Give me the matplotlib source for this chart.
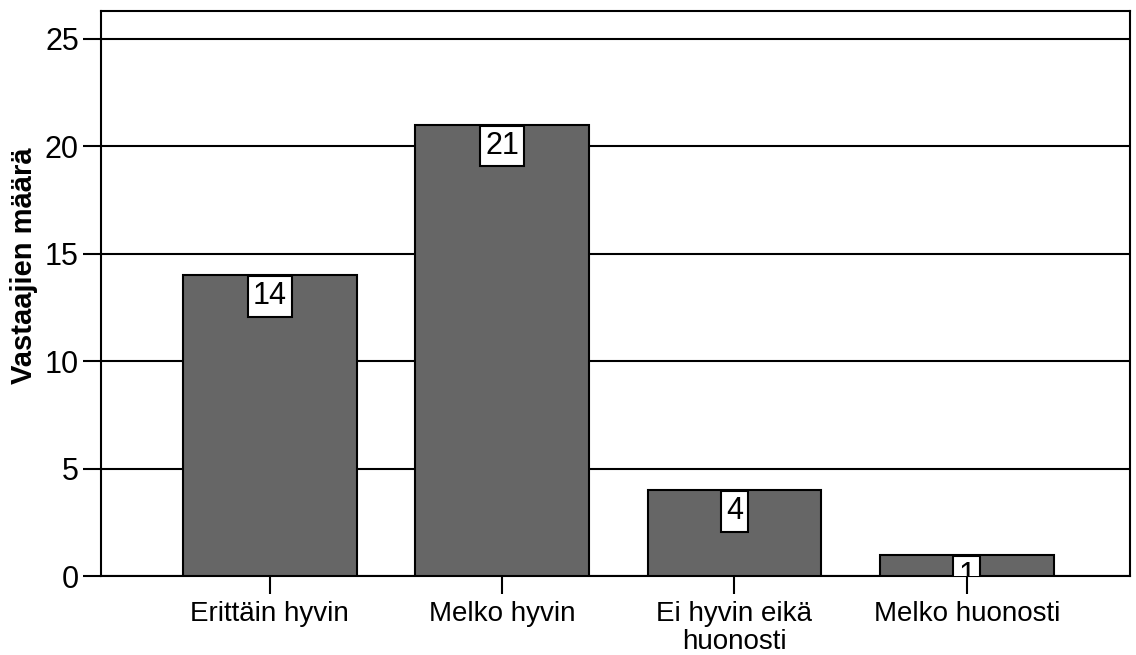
import matplotlib
matplotlib.use("Agg")
import matplotlib.pyplot as plt

categories = ["Erittäin hyvin", "Melko hyvin", "Ei hyvin eikä\nhuonosti", "Melko huonosti"]
counts = [14, 21, 4, 1]
yticks = [0, 5, 10, 15, 20, 25]

plt.rcParams.update({
    "font.family": ["Liberation Sans", "DejaVu Sans"],
    "font.size": 20,
})

fig = plt.figure(figsize=(11.36, 6.55), dpi=100)
ax = fig.add_axes([0.0889, 0.1206, 0.9058, 0.8626])

x = list(range(len(categories)))
ax.bar(x, counts, width=0.748, color="#666666", edgecolor="black",
       linewidth=1.5, zorder=3)

# value labels: white box hanging from the top of each bar
PAD = 0.17
LFS = 22
for i, v in zip(x, counts):
    ax.annotate(f"{v}", (i, v), xytext=(0, -PAD * LFS - 0.8),
                textcoords="offset points", ha="center", va="top",
                fontsize=LFS, zorder=4, clip_on=True, annotation_clip=False,
                bbox=dict(boxstyle=f"square,pad={PAD}", facecolor="white",
                          edgecolor="black", linewidth=1.5))

ax.set_xlim(-0.727, 3.703)
ax.set_ylim(0, 26.28)
ax.set_yticks(yticks)
ax.set_xticks(x)
ax.set_xticklabels(categories, linespacing=1.1)
ax.yaxis.grid(True, color="black", linewidth=1.5, zorder=0)
ax.set_axisbelow(True)

for s in ax.spines.values():
    s.set_linewidth(1.5)
ax.tick_params(axis="both", length=13, width=1.5, direction="out")
ax.tick_params(axis="x", labelsize=20, pad=5.3)
ax.tick_params(axis="y", labelsize=22, pad=3)
ax.set_ylabel("Vastaajien määrä", fontsize=21, fontweight="bold")
ax.yaxis.set_label_coords(-0.061, 0.55)

fig.savefig("out.png", dpi=100)
